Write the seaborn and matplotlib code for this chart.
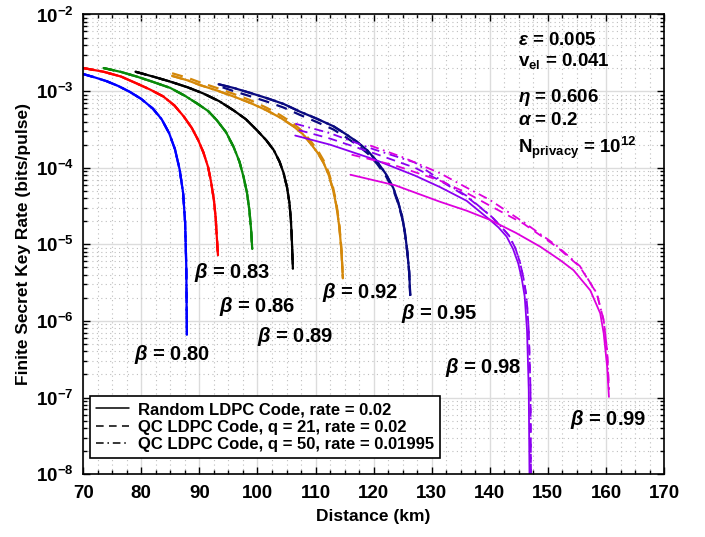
import matplotlib
matplotlib.use("Agg")
import matplotlib.pyplot as plt
import numpy as np
import pandas as pd
import seaborn as sns
from matplotlib.lines import Line2D
from matplotlib.ticker import FixedLocator, MultipleLocator, LogLocator, NullFormatter, FixedFormatter

# ---- values ----
betas = ["0.80", "0.83", "0.86", "0.89", "0.92", "0.95", "0.98", "0.99"]
colors = ["#0000FF", "#FF0000", "#0A8A0A", "#000000", "#D4880A", "#0A0A80", "#8A00F0", "#DD00DD"]

x_ticks = [70, 80, 90, 100, 110, 120, 130, 140, 150, 160, 170]
y_ticks = [1e-8, 1e-7, 1e-6, 1e-5, 1e-4, 1e-3, 1e-2]
y_ticklabels = ['10$^{-8}$', '10$^{-7}$', '10$^{-6}$', '10$^{-5}$', '10$^{-4}$', '10$^{-3}$', '10$^{-2}$']

# beta = 0.80 (all three codes overlap)
dist_080 = [70.0, 72.0, 74.0, 76.0, 78.0, 80.0, 82.0, 83.5, 84.8, 85.8, 86.6, 87.2, 87.55, 87.75, 87.85]
rate_080 = [1.67e-3, 1.51e-3, 1.35e-3, 1.17e-3, 9.8e-4, 7.9e-4, 5.9e-4, 4.3e-4, 2.82e-4, 1.74e-4,
            9.5e-5, 4.7e-5, 1.9e-5, 5.0e-6, 6.6e-7]

# beta = 0.83
dist_083 = [70.0, 73.5, 76.5, 79.2, 81.5, 83.8, 85.7, 87.3, 88.7, 89.8, 90.7, 91.5, 92.0, 92.5, 92.8, 93.0, 93.2]
rate_083 = [2.0e-3, 1.79e-3, 1.55e-3, 1.26e-3, 1.05e-3, 8.5e-4, 6.5e-4, 4.68e-4, 3.3e-4, 2.29e-4,
            1.58e-4, 1.02e-4, 6.6e-5, 3.8e-5, 2.24e-5, 1.26e-5, 7.2e-6]

# beta = 0.86
dist_086 = [73.5, 76.5, 79.2, 82.0, 85.0, 87.5, 89.6, 91.5, 93.0, 94.6, 95.9, 96.9, 97.6, 98.2, 98.6, 98.9, 99.1]
rate_086 = [2.0e-3, 1.78e-3, 1.55e-3, 1.32e-3, 1.10e-3, 8.7e-4, 6.9e-4, 5.5e-4, 4.17e-4, 2.9e-4,
            1.86e-4, 1.2e-4, 7.6e-5, 4.7e-5, 2.82e-5, 1.58e-5, 8.7e-6]

# beta = 0.89
dist_089 = [79.0, 82.0, 85.0, 88.0, 90.7, 93.4, 95.9, 98.0, 99.9, 101.5, 102.8, 103.8, 104.5, 105.1,
            105.5, 105.75, 105.9, 106.1]
rate_089 = [1.79e-3, 1.55e-3, 1.33e-3, 1.12e-3, 9.3e-4, 7.4e-4, 5.6e-4, 4.3e-4, 3.09e-4, 2.29e-4,
            1.70e-4, 1.2e-4, 8.5e-5, 5.5e-5, 3.47e-5, 2.1e-5, 1.26e-5, 4.8e-6]

# beta = 0.92
dist_092 = [85.3, 88.0, 90.1, 93.0, 95.9, 98.8, 101.6, 104.0, 106.2, 107.8, 109.1, 110.4, 111.4, 112.3,
            113.0, 113.6, 114.1, 114.45, 114.7]
rate_092 = [1.58e-3, 1.38e-3, 1.20e-3, 1.02e-3, 8.5e-4, 7.0e-4, 5.6e-4, 4.47e-4, 3.47e-4, 2.75e-4,
            2.09e-4, 1.55e-4, 1.15e-4, 7.9e-5, 5.2e-5, 3.16e-5, 1.66e-5, 8.3e-6, 3.6e-6]
rate_092_q21 = [1.71e-3, 1.49e-3, 1.30e-3, 1.10e-3, 9.2e-4, 7.6e-4, 6.05e-4, 4.83e-4, 3.75e-4, 2.97e-4,
                2.26e-4, 1.67e-4, 1.24e-4, 8.5e-5, 5.6e-5, 3.4e-5, 1.78e-5, 8.9e-6, 3.8e-6]

# beta = 0.95
dist_095 = [93.3, 95.9, 98.7, 101.6, 104.5, 107.3, 110.2, 113.1, 115.2, 117.1, 119.0, 120.6, 122.1,
            123.4, 124.2, 124.9, 125.4, 125.8, 126.1, 126.3]
rate_095 = [1.23e-3, 1.10e-3, 9.5e-4, 8.1e-4, 6.8e-4, 5.4e-4, 4.37e-4, 3.47e-4, 2.75e-4, 2.19e-4,
            1.66e-4, 1.20e-4, 8.3e-5, 5.4e-5, 3.6e-5, 2.29e-5, 1.41e-5, 7.9e-6, 4.5e-6, 2.19e-6]
dist_095_q21 = [94.0, 95.9, 98.7, 101.6, 104.5, 107.3, 110.2, 113.1, 115.2, 117.1, 119.0, 120.6, 122.1,
                123.4, 124.2, 124.9, 125.4, 125.8, 126.1, 126.3]
rate_095_q21 = [1.12e-3, 1.0e-3, 8.6e-4, 7.3e-4, 6.1e-4, 4.9e-4, 3.95e-4, 3.15e-4, 2.5e-4, 2.0e-4,
                1.53e-4, 1.12e-4, 7.8e-5, 5.1e-5, 3.45e-5, 2.2e-5, 1.37e-5, 7.7e-6, 4.4e-6, 2.1e-6]

# beta = 0.98
dist_098 = [106.5, 112.5, 120.0, 127.1, 131.4, 136.0, 140.0, 141.5, 142.9, 144.0, 144.9, 145.5, 146.0,
            146.2, 146.4, 146.7, 146.85]
rate_098 = [2.63e-4, 2.0e-4, 1.29e-4, 7.9e-5, 5.6e-5, 3.7e-5, 2.09e-5, 1.66e-5, 1.26e-5, 8.7e-6,
            5.6e-6, 3.55e-6, 2.09e-6, 1.26e-6, 7.6e-7, 1.26e-7, 6e-9]
dist_098_q21 = [107.1, 112.5, 120.0, 127.1, 131.4, 136.0, 140.3, 141.8, 143.3, 144.4, 145.2, 145.8,
                146.3, 146.5, 146.7, 147.0, 147.1]
rate_098_q21 = [3.1e-4, 2.4e-4, 1.55e-4, 1.0e-4, 6.8e-5, 4.2e-5, 2.3e-5, 1.75e-5, 1.3e-5, 8.9e-6,
                5.8e-6, 3.6e-6, 2.1e-6, 1.3e-6, 7.6e-7, 1.3e-7, 6e-9]
dist_098_q50 = [106.5, 112.5, 120.0, 127.1, 131.4, 136.0, 140.3, 141.8, 143.3, 144.4, 145.2, 145.8,
                146.3, 146.5, 146.7, 147.0, 147.1]
rate_098_q50 = [3.76e-4, 2.82e-4, 1.74e-4, 1.17e-4, 7.0e-5, 4.3e-5, 2.3e-5, 1.75e-5, 1.3e-5, 8.9e-6,
                5.8e-6, 3.6e-6, 2.1e-6, 1.3e-6, 7.6e-7, 1.3e-7, 6e-9]

# beta = 0.99
dist_099 = [116.0, 123.7, 131.4, 136.0, 140.0, 144.5, 148.7, 152.0, 154.4, 157.3, 159.0, 159.6, 160.2, 160.5]
rate_099 = [8.1e-5, 5.9e-5, 3.6e-5, 2.75e-5, 2.09e-5, 1.41e-5, 9.3e-6, 6.3e-6, 4.6e-6, 2.5e-6,
            1.26e-6, 6.9e-7, 2.5e-7, 1.02e-7]
dist_099_q21 = [116.2, 123.7, 131.4, 136.0, 140.0, 145.8, 151.5, 155.5, 158.4, 159.6, 160.2, 160.5]
rate_099_q21 = [1.48e-4, 1.07e-4, 6.8e-5, 4.7e-5, 3.2e-5, 1.86e-5, 9.3e-6, 5.1e-6, 2.29e-6, 1.02e-6, 4.0e-7, 1.26e-7]
dist_099_q50 = [119.4, 124.9, 131.4, 136.0, 140.0, 145.8, 151.5, 155.5, 158.4, 159.6, 160.2, 160.5]
rate_099_q50 = [1.95e-4, 1.38e-4, 8.5e-5, 5.5e-5, 3.8e-5, 1.95e-5, 9.6e-6, 5.2e-6, 2.3e-6, 1.02e-6, 4.0e-7, 1.26e-7]

codes = ["Random LDPC Code, rate = 0.02",
         "QC LDPC Code, q = 21, rate = 0.02",
         "QC LDPC Code, q = 50, rate = 0.01995"]

# (beta, code index, distances, rates)
curves = [
    ("0.80", 0, dist_080, rate_080), ("0.80", 1, dist_080, rate_080), ("0.80", 2, dist_080, rate_080),
    ("0.83", 0, dist_083, rate_083), ("0.83", 1, dist_083, rate_083), ("0.83", 2, dist_083, rate_083),
    ("0.86", 0, dist_086, rate_086), ("0.86", 1, dist_086, rate_086), ("0.86", 2, dist_086, rate_086),
    ("0.89", 0, dist_089, rate_089), ("0.89", 1, dist_089, rate_089), ("0.89", 2, dist_089, rate_089),
    ("0.92", 0, dist_092, rate_092), ("0.92", 1, dist_092, rate_092_q21), ("0.92", 2, dist_092, rate_092),
    ("0.95", 0, dist_095, rate_095), ("0.95", 1, dist_095_q21, rate_095_q21), ("0.95", 2, dist_095, rate_095),
    ("0.98", 0, dist_098, rate_098), ("0.98", 1, dist_098_q21, rate_098_q21), ("0.98", 2, dist_098_q50, rate_098_q50),
    ("0.99", 0, dist_099, rate_099), ("0.99", 1, dist_099_q21, rate_099_q21), ("0.99", 2, dist_099_q50, rate_099_q50),
]

# beta label positions (km, rate)
label_x = [85.3, 95.6, 99.9, 106.5, 117.7, 131.3, 138.8, 160.4]
label_y = [3.7e-7, 4.3e-6, 1.55e-6, 6.2e-7, 2.35e-6, 1.26e-6, 2.45e-7, 5.1e-8]

sns.set_theme(style="ticks")
plt.rcParams['font.family'] = ['Liberation Sans', 'DejaVu Sans']
plt.rcParams['font.weight'] = 'bold'
plt.rcParams['axes.labelweight'] = 'bold'
plt.rcParams['text.color'] = 'black'
plt.rcParams['axes.labelcolor'] = 'black'
plt.rcParams['xtick.color'] = 'black'
plt.rcParams['ytick.color'] = 'black'
plt.rcParams['mathtext.fontset'] = 'custom'
plt.rcParams['mathtext.rm'] = 'Liberation Sans:bold'
plt.rcParams['mathtext.bf'] = 'Liberation Sans:bold'
plt.rcParams['mathtext.it'] = 'Liberation Sans:italic:bold'

fig = plt.figure(figsize=(7.05, 5.37), dpi=100)
ax = fig.add_axes([0.118, 0.117, 0.824, 0.856])

styles = ['-', (0, (5, 3.5)), (0, (5, 2.5, 1, 2.5))]
col_map = dict(zip(betas, colors))

for beta, ci, xs, ys in curves:
    lw = 1.3 if beta in ("0.98", "0.99") else 1.6
    sns.lineplot(x=xs, y=ys, ax=ax, color=col_map[beta], linestyle=styles[ci],
                 linewidth=lw, estimator=None, sort=False, legend=False)

ax.set_yscale('log')
ax.set_xlim(70, 170)
ax.set_ylim(1e-8, 1e-2)
ax.xaxis.set_major_locator(FixedLocator(x_ticks))
ax.xaxis.set_minor_locator(MultipleLocator(2.5))
ax.yaxis.set_major_locator(FixedLocator(y_ticks))
ax.yaxis.set_major_formatter(FixedFormatter(y_ticklabels))
ax.yaxis.set_minor_locator(LogLocator(base=10, subs=np.arange(2, 10), numticks=20))
ax.yaxis.set_minor_formatter(NullFormatter())

ax.grid(True, which='major', color='#DCDCDC', linewidth=1.0, linestyle='-')
ax.grid(True, which='minor', color='#BEBEBE', linewidth=0.8, linestyle=(0, (1, 3)))
ax.set_axisbelow(True)

ax.tick_params(which='both', direction='in', top=True, right=True, colors='black', width=1.0)
ax.tick_params(which='major', length=5, labelsize=13.5)
ax.tick_params(which='minor', length=3)
ax.tick_params(axis='x', which='major', pad=8)
ax.tick_params(axis='y', which='major', pad=7)
for lab in ax.get_xticklabels() + ax.get_yticklabels():
    lab.set_fontweight('bold')
for sp in ax.spines.values():
    sp.set_visible(True)
    sp.set_color('black')
    sp.set_linewidth(1.2)

ax.set_xlabel('Distance (km)', fontsize=12.5, fontweight='bold', labelpad=5)
ax.set_ylabel('Finite Secret Key Rate (bits/pulse)', fontsize=12.5, fontweight='bold', labelpad=3)

for b, lx, ly in zip(betas, label_x, label_y):
    ax.text(lx, ly, r'$\beta$ = ' + b, fontsize=14.5, fontweight='bold', ha='center', va='center')

params = [(0.943, r'$\epsilon$ = 0.005'),
          (0.899, r'v$_{\rm el}$ = 0.041'),
          (0.820, r'$\eta$ = 0.606'),
          (0.770, r'$\alpha$ = 0.2'),
          (0.709, r'N$_{\rm privacy}$ = 10$^{12}$')]
for py, txt in params:
    ax.text(0.749, py, txt, transform=ax.transAxes, fontsize=13.5, fontweight='bold',
            ha='left', va='center')

handles = [Line2D([0], [0], color='black', linewidth=1.1, linestyle=s) for s in styles]
leg = ax.legend(handles, codes, loc='lower left', bbox_to_anchor=(0.012, 0.035),
                borderaxespad=0, fontsize=12, frameon=True, fancybox=False,
                edgecolor='black', framealpha=1, handlelength=2.0, handletextpad=0.5,
                labelspacing=0.15, borderpad=0.35)
leg.get_frame().set_linewidth(1.2)
for t in leg.get_texts():
    t.set_fontweight('bold')

fig.savefig('out.png', dpi=100)
